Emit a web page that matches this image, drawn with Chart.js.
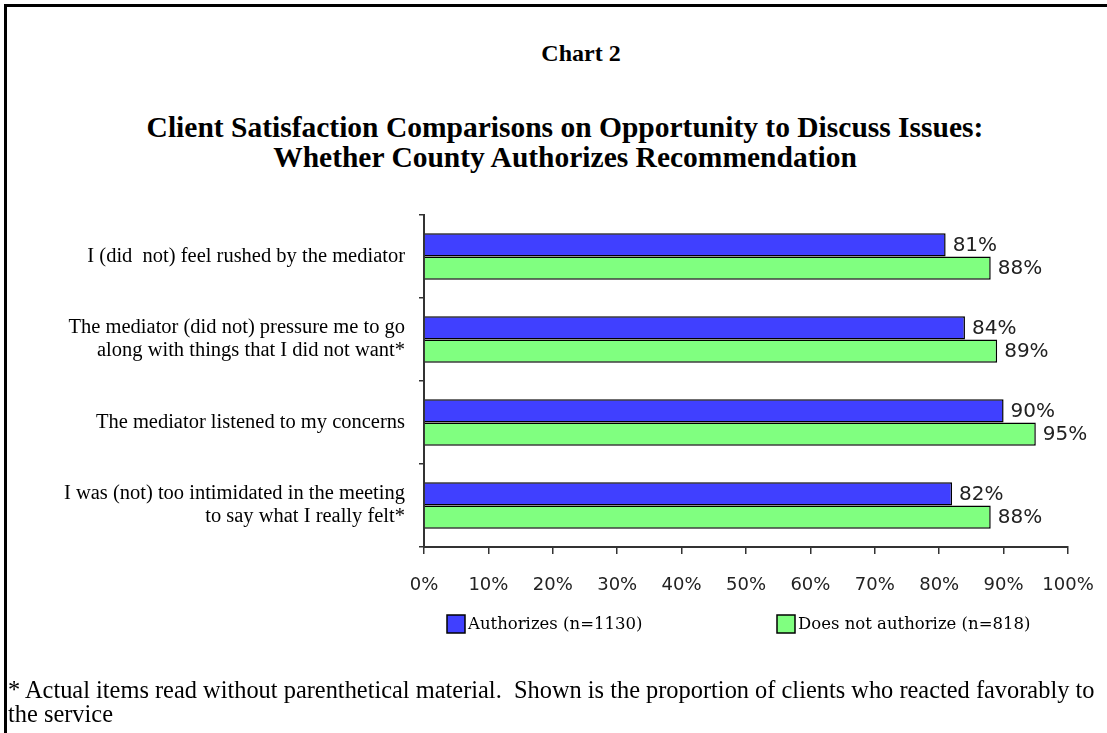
<!DOCTYPE html>
<html>
<head>
<meta charset="utf-8">
<script src="https://cdn.jsdelivr.net/npm/chart.js@4"></script>
<style>
  html, body { margin: 0; padding: 0; width: 1107px; height: 733px; overflow: hidden; background: #fff; }
  #frame { position: absolute; left: 4px; top: 4px; width: 1200px; height: 800px; border: 3px solid #000; }
  #wrap { position: absolute; left: 0; top: 0; width: 1107px; height: 733px; }
  .ttl { position: absolute; font-family: "Liberation Serif", "Times New Roman", serif; font-weight: bold; color: #000; text-align: center; white-space: nowrap; }
  #chartNo { left: 481px; width: 200px; top: 40px; font-size: 24px; }
  #mainTitle { left: 65px; width: 1000px; top: 112px; font-size: 29.5px; line-height: 30px; }
  #note { position: absolute; left: 8px; top: 678px; width: 1097px; font-family: "Liberation Serif", "Times New Roman", serif; font-size: 24.4px; line-height: 24px; color: #000; }
</style>
</head>
<body>
<div id="frame"></div>
<div id="chartNo" class="ttl">Chart 2</div>
<div id="mainTitle" class="ttl">Client Satisfaction Comparisons on Opportunity to Discuss Issues:<br>Whether County Authorizes Recommendation</div>
<div id="wrap"><canvas id="chart"></canvas></div>
<div id="note">* Actual items read without parenthetical material.&nbsp; Shown is the proportion of clients who reacted favorably to the service</div>

<script>
const categories = [
    ['I (did  not) feel rushed by the mediator'],
    ['The mediator (did not) pressure me to go', 'along with things that I did not want*'],
    ['The mediator listened to my concerns'],
    ['I was (not) too intimidated in the meeting', 'to say what I really felt*']
];
const authorizes = [81, 84, 90, 82];
const doesNotAuthorize = [88, 89, 95, 88];
const seriesNames = ['Authorizes (n=1130)', 'Does not authorize (n=818)'];
const xTicks = [0, 10, 20, 30, 40, 50, 60, 70, 80, 90, 100];

// percent labels at the end of each bar
const valueLabels = {
    id: 'valueLabels',
    afterDatasetsDraw(chart) {
        const ctx = chart.ctx;
        ctx.save();
        ctx.font = '20px "DejaVu Sans", Arial, sans-serif';
        ctx.fillStyle = '#222';
        ctx.textBaseline = 'middle';
        ctx.textAlign = 'left';
        chart.data.datasets.forEach(function (ds, i) {
            chart.getDatasetMeta(i).data.forEach(function (bar, j) {
                ctx.fillText(ds.data[j] + '%', bar.x + 7, bar.y + 1);
            });
        });
        ctx.restore();
    }
};

// legend under the axis, placed like the original
const boxLegend = {
    id: 'boxLegend',
    afterDraw(chart) {
        const ctx = chart.ctx;
        const starts = [447, 777];
        const y = 615;
        ctx.save();
        ctx.font = '16.5px "DejaVu Serif", "Times New Roman", serif';
        ctx.textBaseline = 'middle';
        chart.data.datasets.forEach(function (ds, i) {
            ctx.fillStyle = ds.backgroundColor;
            ctx.fillRect(starts[i], y, 18, 18);
            ctx.strokeStyle = '#000';
            ctx.lineWidth = 1.5;
            ctx.strokeRect(starts[i], y, 18, 18);
            ctx.fillStyle = '#000';
            ctx.fillText(ds.label, starts[i] + 21, y + 10);
        });
        ctx.restore();
    }
};

new Chart(document.getElementById('chart').getContext('2d'), {
    type: 'bar',
    data: {
        labels: categories,
        datasets: [{
            label: seriesNames[0],
            data: authorizes,
            backgroundColor: '#4040FF',
            borderColor: '#000',
            borderWidth: 1.5,
            categoryPercentage: 0.56,
            barPercentage: 1
        }, {
            label: seriesNames[1],
            data: doesNotAuthorize,
            backgroundColor: '#80FF80',
            borderColor: '#000',
            borderWidth: 1.5,
            categoryPercentage: 0.56,
            barPercentage: 1
        }]
    },
    options: {
        indexAxis: 'y',
        responsive: true,
        maintainAspectRatio: false,
        animation: false,
        layout: {
            padding: { top: 215, right: 39, bottom: 136, left: 0 }
        },
        plugins: {
            legend: { display: false },
            tooltip: { enabled: false }
        },
        scales: {
            x: {
                min: 0,
                max: 100,
                afterBuildTicks: function (scale) {
                    scale.ticks = xTicks.map(function (v) { return { value: v }; });
                },
                afterFit: function (scale) {
                    scale.height = 50;
                    scale.paddingLeft = 0;
                    scale.paddingRight = 0;
                },
                grid: { drawOnChartArea: false, tickLength: 7, color: '#333', lineWidth: 1.5 },
                border: { color: '#333', width: 2 },
                ticks: {
                    callback: function (v) { return v + '%'; },
                    font: { family: '"DejaVu Sans", Arial, sans-serif', size: 18 },
                    color: '#222',
                    padding: 21,
                    maxRotation: 0
                }
            },
            y: {
                afterFit: function (scale) { scale.width = 424; },
                grid: { offset: true, drawOnChartArea: false, tickLength: 5, color: '#333', lineWidth: 1.5 },
                border: { color: '#333', width: 2 },
                ticks: {
                    font: { family: '"Liberation Serif", "Times New Roman", serif', size: 20.5, lineHeight: 1.12 },
                    color: '#000',
                    padding: 14
                }
            }
        }
    },
    plugins: [valueLabels, boxLegend]
});
</script>
</body>
</html>
